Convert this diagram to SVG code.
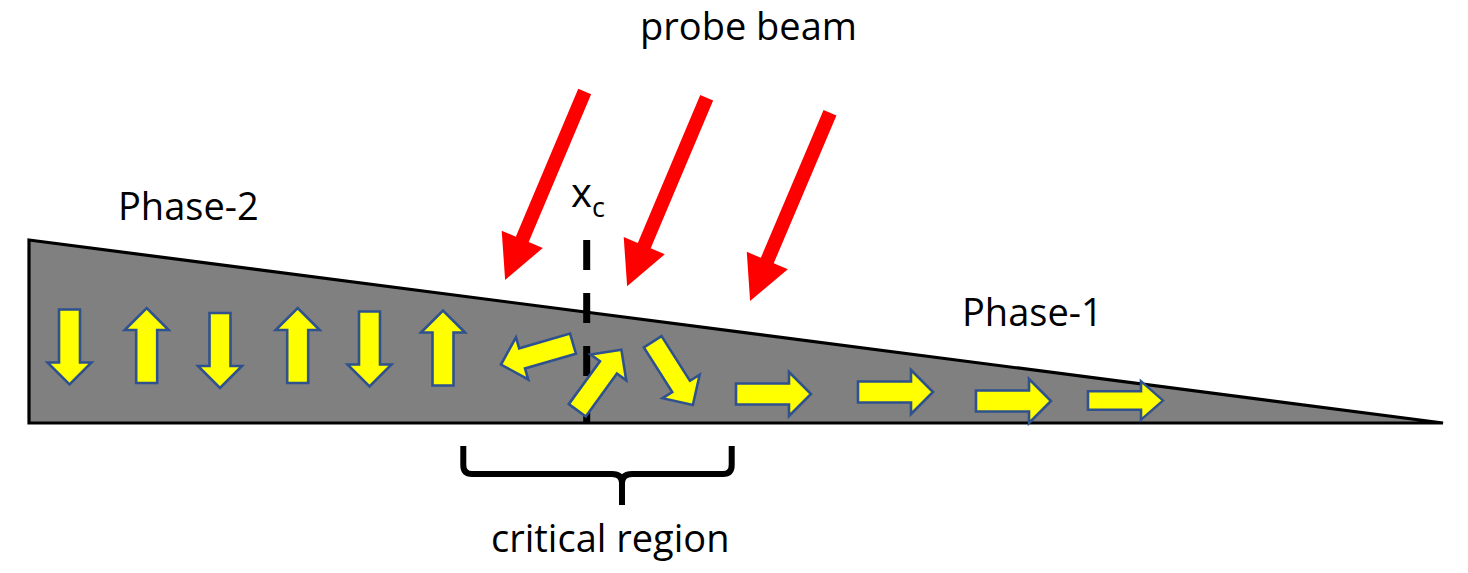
<svg xmlns="http://www.w3.org/2000/svg" width="1468" height="573" viewBox="0 0 1468 573">
<style>
.lbl{font-family:"Open Sans","Liberation Sans",sans-serif;fill:#000}
.ya{fill:#FFFF00;stroke:#2F528F;stroke-width:2.6;stroke-linejoin:miter}
.ra{fill:#FF0000;stroke:none}
</style>
<defs>
<path id="yarrow" d="M0,-10.5 H53 V-22 L75,0 L53,22 V10.5 H0 Z"/>
<path id="rarrow" d="M0,-7 H160.5 V-22.3 L204.5,0 L160.5,22.3 V7 H0 Z"/>
</defs>
<rect width="1468" height="573" fill="#fff"/>
<g id="wedge">
<polygon points="29,240 1443,423 29,423" fill="#808080" stroke="#000" stroke-width="3.2" stroke-linejoin="miter"/>
</g>
<g id="xc-line">
<path d="M586.7,240 V423" stroke="#000" stroke-width="7" stroke-dasharray="30 23" fill="none"/>
</g>
<g id="spins">
<use href="#yarrow" class="ya" transform="translate(69.5,309.5) rotate(90)"/>
<use href="#yarrow" class="ya" transform="translate(146.7,383) rotate(-90)"/>
<use href="#yarrow" class="ya" transform="translate(220,313) rotate(90)"/>
<use href="#yarrow" class="ya" transform="translate(297.7,383) rotate(-90)"/>
<use href="#yarrow" class="ya" transform="translate(369.5,311.5) rotate(90)"/>
<use href="#yarrow" class="ya" transform="translate(443,385.5) rotate(-90)"/>
<use href="#yarrow" class="ya" transform="translate(573,343.6) rotate(163.8)"/>
<use href="#yarrow" class="ya" transform="translate(577.3,410.3) rotate(-54)"/>
<use href="#yarrow" class="ya" transform="translate(652.7,341.7) rotate(57.6)"/>
<use href="#yarrow" class="ya" transform="translate(736,394)"/>
<use href="#yarrow" class="ya" transform="translate(858,392)"/>
<use href="#yarrow" class="ya" transform="translate(976,401)"/>
<use href="#yarrow" class="ya" transform="translate(1088,400.5) scale(1,0.88)"/>
</g>
<g id="probe-beam">
<use href="#rarrow" class="ra" transform="translate(584.7,91.5) rotate(112.9)"/>
<use href="#rarrow" class="ra" transform="translate(706.7,97.8) rotate(112.9)"/>
<use href="#rarrow" class="ra" transform="translate(830,112.8) rotate(113)"/>
</g>
<g id="brace">
<path d="M463.3,446 V465 Q463.3,474 472,474 H612 Q622,474 622,483 V505 M622,483 Q622,474 632,474 H723 Q731.7,474 731.7,465 V446" fill="none" stroke="#000" stroke-width="6"/>
</g>
<g id="labels">
<text class="lbl" x="640" y="40" font-size="38">probe beam</text>
<text class="lbl" x="118" y="220" font-size="38">Phase-2</text>
<text class="lbl" x="962" y="326" font-size="38">Phase-1</text>
<text class="lbl" x="491" y="552" font-size="38">critical region</text>
<text class="lbl" x="571" y="207" font-size="40">x<tspan font-size="27" dy="10">c</tspan></text>
</g>
</svg>
